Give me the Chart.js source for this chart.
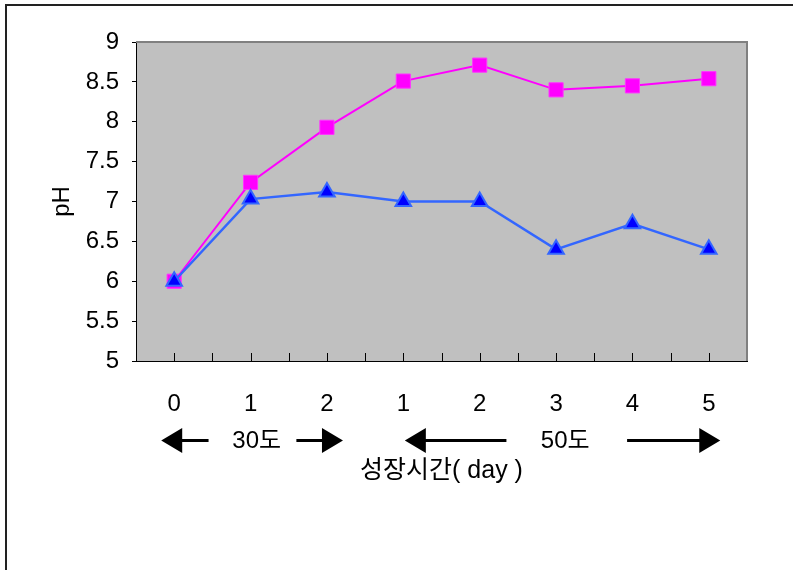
<!DOCTYPE html>
<html>
<head>
<meta charset="utf-8">
<script src="https://cdn.jsdelivr.net/npm/chart.js@4.4.1/dist/chart.umd.min.js"></script>
<style>
  body { margin: 0; background: #fff; }
  .wrap { position: relative; width: 793px; height: 570px; overflow: hidden; }
  .frame { position: absolute; left: 5px; top: 4px; width: 900px; height: 700px;
           border-top: 2px solid #222; border-left: 2px solid #222; pointer-events: none; }
</style>
</head>
<body>
<div class="wrap">
  <canvas id="myChart" width="793" height="570"></canvas>
  <div class="frame"></div>
</div>
<script>
/* data */
var days = ['0', '1', '2', '1', '2', '3', '4', '5'];
var phSquare = [6.0, 7.24, 7.93, 8.51, 8.71, 8.40, 8.45, 8.54];
var phTriangle = [6.0, 7.03, 7.12, 7.0, 7.0, 6.40, 6.72, 6.40];
var yTicks = [5, 5.5, 6, 6.5, 7, 7.5, 8, 8.5, 9];
var tempBands = [
  { label: '30도', from: -0.17, shaftEnd: 0.45, mid: 1.08, shaftStart: 1.6, to: 2.21 },
  { label: '50도', from: 3.02, shaftEnd: 4.35, mid: 5.12, shaftStart: 5.93, to: 7.15 }
];

var latin = '"Liberation Sans", "Noto Sans CJK KR", sans-serif';

/* plot box, inner ticks and temperature arrows */
var plotDeco = {
  id: 'plotDeco',
  beforeDraw: function (chart) {
    var a = chart.chartArea, ctx = chart.ctx;
    ctx.save();
    ctx.fillStyle = '#C0C0C0';
    ctx.fillRect(a.left, a.top, a.right - a.left, a.bottom - a.top);
    ctx.restore();
  },
  beforeDatasetsDraw: function (chart) {
    var a = chart.chartArea, ctx = chart.ctx, x = chart.scales.x;
    ctx.save();
    ctx.strokeStyle = '#808080';
    ctx.lineWidth = 2;
    ctx.beginPath();
    ctx.moveTo(a.left, a.top);
    ctx.lineTo(a.right, a.top);
    ctx.lineTo(a.right, a.bottom);
    ctx.stroke();

    ctx.strokeStyle = '#000';
    ctx.lineWidth = 1;
    ctx.beginPath();
    for (var i = 0; i < days.length; i++) {
      [i - 0.5, i].forEach(function (v) {
        if (v === -0.5) return;
        var px = Math.round(x.getPixelForValue(v)) + 0.5;
        ctx.moveTo(px, a.bottom);
        ctx.lineTo(px, a.bottom - 8);
      });
    }
    ctx.stroke();
    ctx.restore();
  },
  afterDraw: function (chart) {
    var ctx = chart.ctx, x = chart.scales.x;
    var y = 440.5;
    ctx.save();
    ctx.fillStyle = '#000';
    ctx.strokeStyle = '#000';
    ctx.lineWidth = 3;
    tempBands.forEach(function (b) {
      var tipL = x.getPixelForValue(b.from);
      var endL = x.getPixelForValue(b.shaftEnd);
      var startR = x.getPixelForValue(b.shaftStart);
      var tipR = x.getPixelForValue(b.to);
      // shafts
      ctx.beginPath();
      ctx.moveTo(tipL + 18, y);
      ctx.lineTo(endL, y);
      ctx.moveTo(startR, y);
      ctx.lineTo(tipR - 18, y);
      ctx.stroke();
      // heads
      ctx.beginPath();
      ctx.moveTo(tipL, y);
      ctx.lineTo(tipL + 21, y - 12.5);
      ctx.lineTo(tipL + 21, y + 12.5);
      ctx.closePath();
      ctx.moveTo(tipR, y);
      ctx.lineTo(tipR - 21, y - 12.5);
      ctx.lineTo(tipR - 21, y + 12.5);
      ctx.closePath();
      ctx.fill();
      // label
      ctx.font = '24px ' + latin;
      ctx.textAlign = 'center';
      ctx.textBaseline = 'middle';
      ctx.fillText(b.label, x.getPixelForValue(b.mid), y + 1);
    });
    ctx.restore();
  }
};

var ctx = document.getElementById('myChart').getContext('2d');
new Chart(ctx, {
  type: 'line',
  data: {
    labels: days,
    datasets: [
      {
        label: 'triangle',
        data: phTriangle,
        borderColor: '#3366FF',
        borderWidth: 2.5,
        pointStyle: 'triangle',
        pointRadius: 9,
        pointBackgroundColor: '#0000FF',
        pointBorderColor: '#3366FF',
        pointBorderWidth: 2,
        tension: 0
      },
      {
        label: 'square',
        data: phSquare,
        borderColor: '#FF00FF',
        borderWidth: 2,
        pointStyle: 'rect',
        pointRadius: 10,
        pointBackgroundColor: '#FF00FF',
        pointBorderColor: '#FF33FF',
        pointBorderWidth: 1,
        tension: 0
      }
    ]
  },
  options: {
    responsive: false,
    animation: false,
    layout: { padding: { left: 45, top: 42, right: 46, bottom: 84 } },
    plugins: {
      legend: { display: false },
      tooltip: { enabled: false }
    },
    scales: {
      x: {
        offset: true,
        grid: { display: false, drawTicks: false },
        border: { display: true, color: '#000', width: 1 },
        ticks: {
          color: '#000',
          padding: 29,
          maxRotation: 0,
          autoSkip: false,
          font: { family: latin, size: 24 }
        },
        title: {
          display: true,
          text: '성장시간( day )',
          color: '#000',
          padding: { bottom: 0 },
          font: { family: latin, size: 25 }
        },
        afterFit: function (s) { s.height = 125; }
      },
      y: {
        min: 5,
        max: 9,
        afterBuildTicks: function (s) {
          s.ticks = yTicks.map(function (v) { return { value: v }; });
        },
        grid: { drawOnChartArea: false, drawTicks: true, tickLength: 4, color: '#000' },
        border: { display: true, color: '#000', width: 1 },
        ticks: {
          color: '#000',
          padding: 13,
          font: { family: latin, size: 24 },
          callback: function (v) { return String(v); }
        },
        title: {
          display: true,
          text: 'pH',
          color: '#000',
          padding: { top: 3 },
          font: { family: latin, size: 24 }
        },
        afterFit: function (s) { s.width = 91; }
      }
    }
  },
  plugins: [plotDeco]
});
</script>
</body>
</html>
